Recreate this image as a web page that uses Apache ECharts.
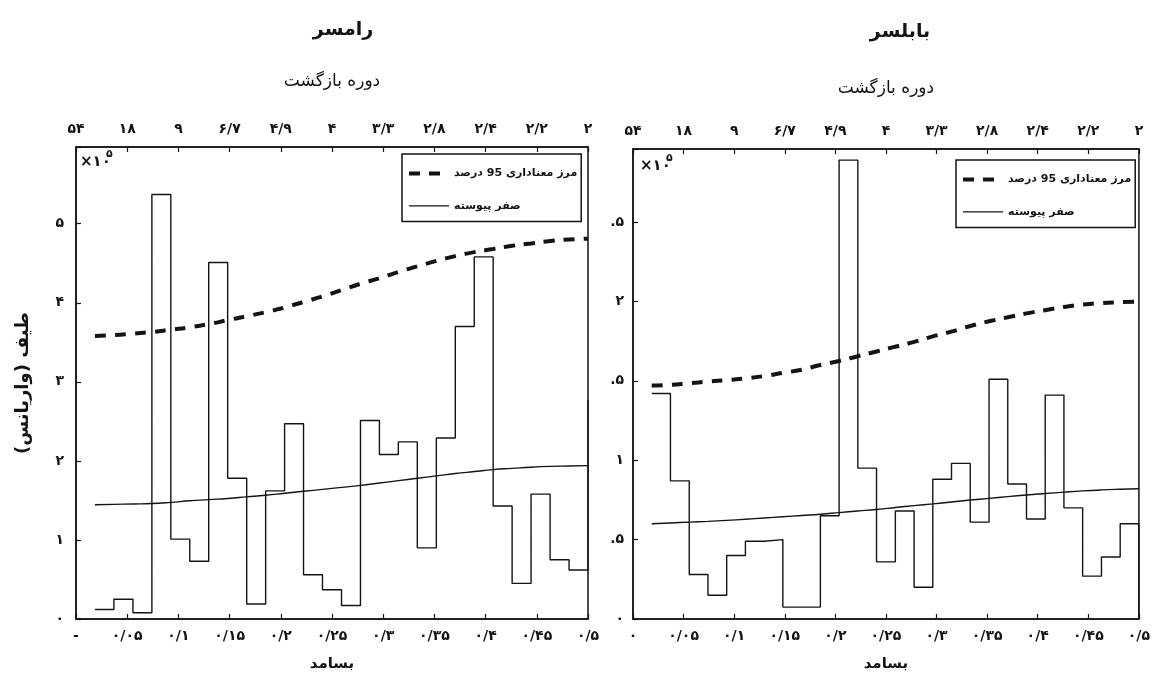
<!DOCTYPE html>
<html><head><meta charset="utf-8">
<script src="https://cdn.jsdelivr.net/npm/echarts@6/dist/echarts.min.js"></script>
<style>html,body{margin:0;padding:0;background:#fff}#c{width:1153px;height:677px}</style>
</head><body><div id="c"></div>
<script>
// Fourier frequencies (k/54)
const freqs = [0.0185,0.0370,0.0556,0.0741,0.0926,0.1111,0.1296,0.1481,0.1667,0.1852,0.2037,0.2222,0.2407,0.2593,0.2778,0.2963,0.3148,0.3333,0.3519,0.3704,0.3889,0.4074,0.4259,0.4444,0.4630,0.4815,0.5000];

// Ramsar (x 10^5)
const ramsarSpectrum = [0.12,0.25,0.08,5.37,1.01,0.73,4.51,1.78,0.19,1.62,2.47,0.56,0.37,0.17,2.51,2.08,2.24,0.90,2.29,3.70,4.58,1.43,0.45,1.58,0.75,0.62,2.77];
const ramsarBound95 = [3.58,3.59,3.61,3.63,3.66,3.69,3.73,3.78,3.83,3.88,3.94,4.01,4.08,4.16,4.24,4.31,4.39,4.46,4.53,4.59,4.64,4.68,4.72,4.75,4.78,4.80,4.81];
const ramsarRedNoise = [1.445,1.45,1.455,1.46,1.475,1.495,1.51,1.525,1.545,1.565,1.59,1.615,1.64,1.665,1.69,1.72,1.75,1.78,1.81,1.84,1.865,1.89,1.905,1.92,1.93,1.935,1.94];

// Babolsar (x 10^5)
const babolsarSpectrum = [1.42,0.87,0.28,0.15,0.40,0.49,0.50,0.075,0.075,0.65,2.89,0.95,0.36,0.68,0.20,0.88,0.98,0.61,1.51,0.85,0.63,1.41,0.70,0.27,0.39,0.60,0];
const babolsarBound95 = [1.47,1.475,1.485,1.495,1.505,1.515,1.53,1.55,1.57,1.60,1.625,1.655,1.685,1.715,1.745,1.78,1.81,1.845,1.875,1.90,1.925,1.945,1.965,1.98,1.99,1.995,2.00];
const babolsarRedNoise = [0.600,0.605,0.610,0.615,0.621,0.628,0.636,0.644,0.652,0.660,0.670,0.680,0.690,0.702,0.714,0.725,0.737,0.749,0.760,0.771,0.781,0.790,0.799,0.807,0.813,0.817,0.820];

// tick labels
const freqTickValues = [0,0.05,0.1,0.15,0.2,0.25,0.3,0.35,0.4,0.45,0.5];
const ramsarFreqLabels = ['-','۰/۰۵','۰/۱','۰/۱۵','۰/۲','۰/۲۵','۰/۳','۰/۳۵','۰/۴','۰/۴۵','۰/۵'];
const babolsarFreqLabels = ['۰','۰/۰۵','۰/۱','۰/۱۵','۰/۲','۰/۲۵','۰/۳','۰/۳۵','۰/۴','۰/۴۵','۰/۵'];
const periodLabels = ['۵۴','۱۸','۹','۶/۷','۴/۹','۴','۳/۳','۲/۸','۲/۴','۲/۲','۲'];
const ramsarYValues = [0,1,2,3,4,5];
const ramsarYLabels = ['۰','۱','۲','۳','۴','۵'];
const babolsarYValues = [0,0.5,1,1.5,2,2.5];
const babolsarYLabels = ['۰','.۵','۱','.۵','۲','.۵'];

const stations = ['رامسر','بابلسر'];
const boundName = 'مرز معناداری 95 درصد';
const noiseName = 'صفر پیوسته';

const FONT = 'DejaVu Sans';
const INK = '#141414';

function lookup(values, labels){
  return function(v){
    for (let i=0;i<values.length;i++){ if (Math.abs(values[i]-v) < 1e-6) return labels[i]; }
    return '';
  };
}
function pairs(xs, ys){ return xs.map((x,i)=>[x, ys[i]]); }

const grids = [
  {left:76, top:147, width:512, height:475, show:true, borderColor:INK, borderWidth:1.5},
  {left:633, top:149, width:513, height:473, show:true, borderColor:INK, borderWidth:1.5}
];

const axisLineStyle = {show:true, lineStyle:{color:INK, width:1.5}};
const tickStyle = {show:true, inside:true, length:5, lineStyle:{color:INK, width:1.2}};
const labelStyle = {color:INK, fontFamily:FONT, fontWeight:'bold', fontSize:14};

function xAxes(gi, freqLabels, topGap){
  return [
    {type:'value', gridIndex:gi, position:'bottom', min:0, max:0.5, interval:0.05,
     axisLine:axisLineStyle, axisTick:tickStyle, splitLine:{show:false},
     axisLabel:Object.assign({margin:10, formatter:lookup(freqTickValues, freqLabels)}, labelStyle),
     name:'بسامد', nameLocation:'middle', nameGap:38,
     nameTextStyle:{fontFamily:FONT, fontWeight:'bold', fontSize:15, color:INK}},
    {type:'value', gridIndex:gi, position:'top', min:0, max:0.5, interval:0.05,
     axisLine:axisLineStyle, axisTick:tickStyle, splitLine:{show:false},
     axisLabel:Object.assign({margin:11, formatter:lookup(freqTickValues, periodLabels)}, labelStyle),
     name:'دوره بازگشت', nameLocation:'middle', nameGap:topGap,
     nameTextStyle:{fontFamily:FONT, fontSize:17, color:INK}}
  ];
}

const option = {
  animation:false,
  backgroundColor:'#fff',
  title:[
    {text:stations[0], left:338, top:16, textAlign:'center',
     textStyle:{fontFamily:FONT, fontWeight:'bold', fontSize:19, color:INK}},
    {text:stations[1], left:895, top:18, textAlign:'center',
     textStyle:{fontFamily:FONT, fontWeight:'bold', fontSize:19, color:INK}}
  ],
  grid:grids,
  xAxis:[].concat(xAxes(0, ramsarFreqLabels, 57), xAxes(1, babolsarFreqLabels, 52)),
  yAxis:[
    {type:'value', gridIndex:0, min:0, max:5.97, interval:1,
     axisLine:axisLineStyle, axisTick:tickStyle, splitLine:{show:false},
     axisLabel:Object.assign({margin:12, formatter:lookup(ramsarYValues, ramsarYLabels)}, labelStyle),
     name:'طیف (واریانس)\u200F', nameLocation:'middle', nameGap:44,
     nameTextStyle:{fontFamily:FONT, fontWeight:'bold', fontSize:18, color:INK}},
    {type:'value', gridIndex:1, min:0, max:2.96, interval:0.5,
     axisLine:axisLineStyle, axisTick:tickStyle, splitLine:{show:false},
     axisLabel:Object.assign({margin:9, formatter:lookup(babolsarYValues, babolsarYLabels)}, labelStyle)}
  ],
  legend:[
    {left:402, top:154, orient:'vertical', itemWidth:40, itemHeight:14, itemGap:21,
     padding:[14,4,10,5], borderColor:INK, borderWidth:1.5, selectedMode:false,
     itemStyle:{opacity:0},
     textStyle:{fontFamily:FONT, fontWeight:'bold', fontSize:11, color:INK},
     data:[{name:boundName, lineStyle:{width:4}}, {name:noiseName, lineStyle:{width:1.2}}]},
    {left:956, top:160, orient:'vertical', itemWidth:40, itemHeight:14, itemGap:21,
     padding:[14,4,10,5], borderColor:INK, borderWidth:1.5, selectedMode:false,
     itemStyle:{opacity:0},
     textStyle:{fontFamily:FONT, fontWeight:'bold', fontSize:11, color:INK},
     data:[{name:boundName, lineStyle:{width:4}}, {name:noiseName, lineStyle:{width:1.2}}]}
  ],
  graphic:[
    {type:'text', left:80, top:155, style:{text:'×۱۰', font:'bold 15px "DejaVu Sans"', fill:INK}},
    {type:'text', left:106, top:149, style:{text:'۵', font:'bold 11px "DejaVu Sans"', fill:INK}},
    {type:'text', left:640, top:159, style:{text:'×۱۰', font:'bold 15px "DejaVu Sans"', fill:INK}},
    {type:'text', left:666, top:153, style:{text:'۵', font:'bold 11px "DejaVu Sans"', fill:INK}}
  ],
  series:[
    {name:'spectrum-ramsar', type:'line', xAxisIndex:0, yAxisIndex:0, step:'end', symbol:'none',
     lineStyle:{color:INK, width:1.4}, data:pairs(freqs, ramsarSpectrum)},
    {name:noiseName, type:'line', xAxisIndex:0, yAxisIndex:0, smooth:true, symbol:'none',
     lineStyle:{color:INK, width:1.4}, itemStyle:{color:INK}, data:pairs(freqs, ramsarRedNoise)},
    {name:boundName, type:'line', xAxisIndex:0, yAxisIndex:0, smooth:true, symbol:'none',
     lineStyle:{color:INK, width:4, type:[11,9]}, itemStyle:{color:INK}, data:pairs(freqs, ramsarBound95)},
    {name:'spectrum-babolsar', type:'line', xAxisIndex:2, yAxisIndex:1, step:'end', symbol:'none',
     lineStyle:{color:INK, width:1.4}, data:pairs(freqs, babolsarSpectrum)},
    {name:noiseName, type:'line', xAxisIndex:2, yAxisIndex:1, smooth:true, symbol:'none',
     lineStyle:{color:INK, width:1.4}, itemStyle:{color:INK}, data:pairs(freqs, babolsarRedNoise)},
    {name:boundName, type:'line', xAxisIndex:2, yAxisIndex:1, smooth:true, symbol:'none',
     lineStyle:{color:INK, width:4, type:[11,9]}, itemStyle:{color:INK}, data:pairs(freqs, babolsarBound95)}
  ]
};

const chart = echarts.init(document.getElementById('c'), null, {renderer:'canvas'});
chart.setOption(option);
</script>
</body></html>
